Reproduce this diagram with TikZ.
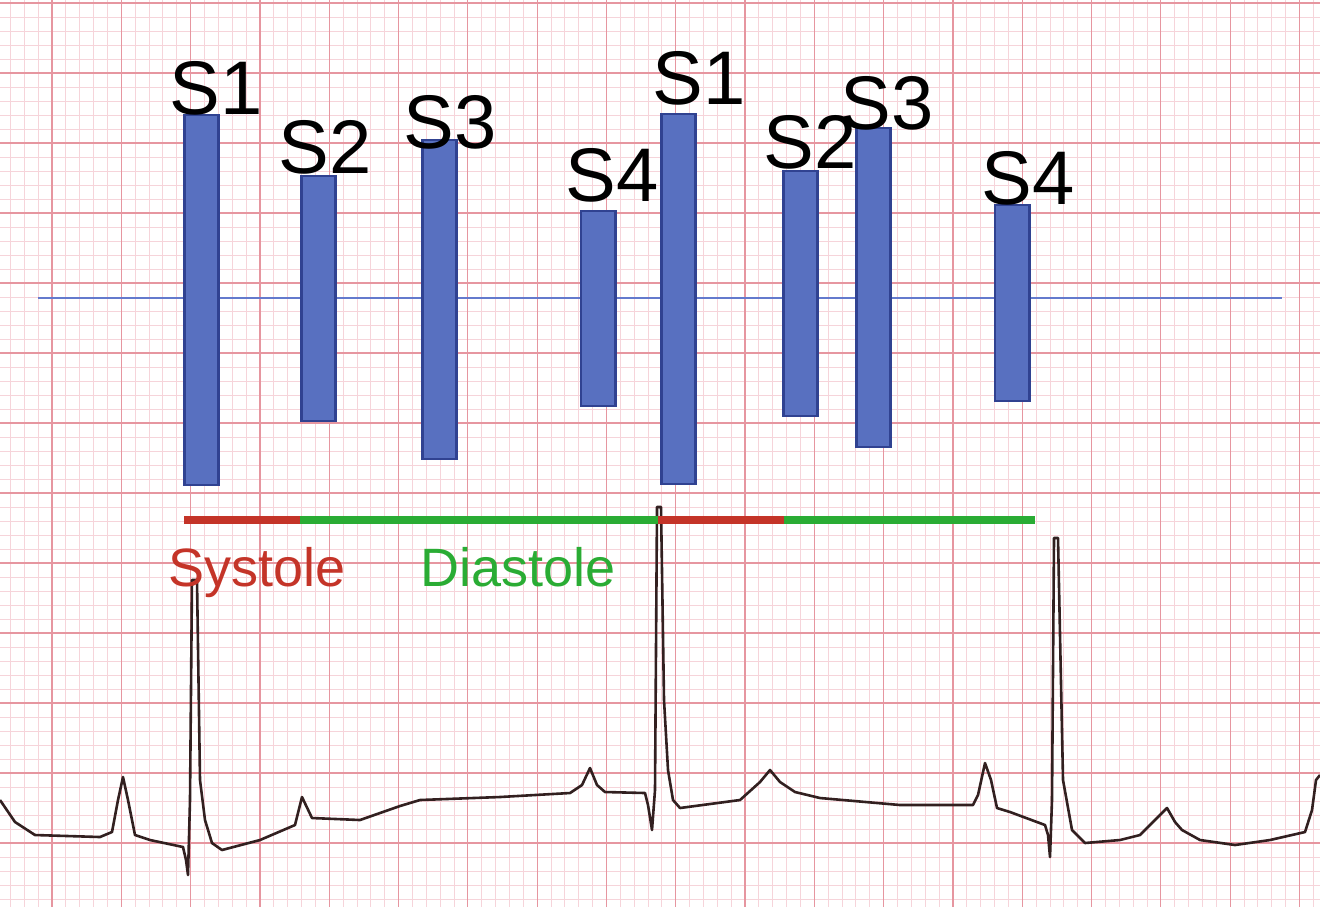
\documentclass[tikz,border=0pt]{standalone}
\usepackage{fontspec}
\setmainfont{Liberation Sans}
\definecolor{barfill}{RGB}{88,112,192}
\definecolor{barline}{RGB}{48,66,145}
\definecolor{axisline}{RGB}{100,122,205}
\definecolor{gridminor}{RGB}{246,212,218}
\definecolor{gridmajor}{RGB}{230,150,160}
\definecolor{ecgline}{RGB}{50,32,32}
\definecolor{sysred}{RGB}{196,52,40}
\definecolor{diagreen}{RGB}{42,172,52}
\begin{document}
\begin{tikzpicture}[x=0.5pt, y=-0.5pt,
        bar/.style={rectangle, draw=barline, fill=barfill, line width=1.3pt, minimum width=17.2pt, inner sep=0pt},
        lbl/.style={inner sep=0pt, font=\fontsize{38}{40}\selectfont},
        phase/.style={line width=4pt},
        phaselbl/.style={inner sep=0pt, font=\fontsize{27}{30}\selectfont},
        minor/.style={draw=gridminor, line width=0.4pt},
        major/.style={draw=gridmajor, line width=0.6pt},
        ecg/.style={draw=ecgline, line width=1.3pt, line join=round}
    ]
        \useasboundingbox (0,0) rectangle (1320,907);
        \fill[white] (0,0) rectangle (1320,907);

        % ECG paper
        \foreach \i in {0,...,95} \draw[minor] ({10.4+13.86*\i},0) -- ({10.4+13.86*\i},907);
        \foreach \j in {0,...,65} \draw[minor] (0,{3+14*\j}) -- (1320,{3+14*\j});
        \foreach \i in {0,...,19} \draw[major] ({-17.3+69.3*\i},0) -- ({-17.3+69.3*\i},907);
        \foreach \j in {0,...,13} \draw[major] (0,{3+70*\j}) -- (1320,{3+70*\j});

        % Trace
        \draw[ecg] (0,800) -- (15,822) -- (35,835) -- (100,837) -- (112,832) -- (118,800) -- (123,777)
            -- (128,800) -- (135,835) -- (150,840) -- (183,847) -- (186,860) -- (188,875) -- (190,800)
            -- (192,580) -- (197,580) -- (200,780) -- (205,820) -- (212,843) -- (222,850) -- (260,840)
            -- (295,825) -- (302,797) -- (312,818) -- (360,820) -- (400,806) -- (420,800) -- (500,797)
            -- (570,793) -- (582,785) -- (590,768) -- (597,785) -- (605,792) -- (645,793) -- (648,805)
            -- (652,830) -- (655,790) -- (657,507) -- (661,507) -- (664,700) -- (668,770) -- (673,800)
            -- (680,808) -- (740,800) -- (760,782) -- (770,770) -- (780,782) -- (795,792) -- (820,798)
            -- (900,805) -- (973,805) -- (978,795) -- (985,763) -- (991,780) -- (997,808) -- (1010,812)
            -- (1045,825) -- (1048,835) -- (1050,857) -- (1052,800) -- (1054,538) -- (1058,538)
            -- (1063,780) -- (1072,830) -- (1085,843) -- (1120,840) -- (1140,835) -- (1167,808)
            -- (1175,822) -- (1182,830) -- (1200,840) -- (1235,845) -- (1270,840) -- (1305,832)
            -- (1312,810) -- (1316,780) -- (1320,775);

        % Baseline
        \draw[axisline, line width=1.3pt] (38,298) -- (1282,298);

        % First cycle
        \node[bar, minimum height=185pt] (s1a) at (201.5,300) {};
        \node[bar, minimum height=122.5pt] (s2a) at (318.5,298.5) {};
        \node[bar, minimum height=159.5pt] (s3a) at (439.5,299.5) {};
        \node[bar, minimum height=97.5pt] (s4a) at (598,308.5) {};
        \node[lbl] (l1a) at (216,88) {S1};
        \node[lbl] (l2a) at (325,147) {S2};
        \node[lbl] (l3a) at (450,122) {S3};
        \node[lbl] (l4a) at (612,175) {S4};

        % Second cycle
        \node[bar, minimum height=185pt] (s1b) at (678.5,299) {};
        \node[bar, minimum height=122.5pt] (s2b) at (800.5,293.5) {};
        \node[bar, minimum height=159.5pt] (s3b) at (873.5,287.5) {};
        \node[bar, minimum height=98pt] (s4b) at (1012,303) {};
        \node[lbl] (l1b) at (699,78) {S1};
        \node[lbl] (l2b) at (810,142) {S2};
        \node[lbl] (l3b) at (887,103) {S3};
        \node[lbl] (l4b) at (1028,178) {S4};

        % Phases
        \draw[phase, sysred] (184,520) -- (300,520);
        \draw[phase, diagreen] (300,520) -- (658,520);
        \draw[phase, sysred] (658,520) -- (784,520);
        \draw[phase, diagreen] (784,520) -- (1035,520);
        \node[phaselbl, text=sysred, anchor=base west] (sys) at (168,586) {Systole};
        \node[phaselbl, text=diagreen, anchor=base west] (dia) at (420,586) {Diastole};
    \end{tikzpicture}
\end{document}
